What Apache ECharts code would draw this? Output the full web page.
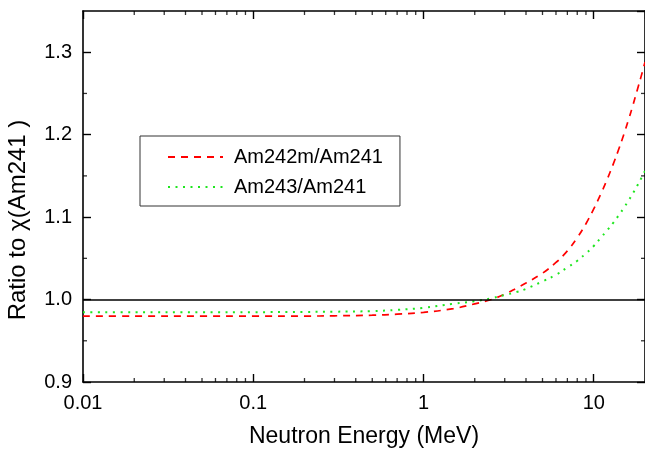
<!DOCTYPE html>
<html>
<head>
<meta charset="utf-8">
<script src="https://cdn.jsdelivr.net/npm/echarts@6/dist/echarts.min.js"></script>
<style>
html,body{margin:0;padding:0;background:#fff;}
#chart{width:645px;height:453px;}
</style>
</head>
<body>
<div id="chart"></div>
<script>
// Neutron energy (MeV)
const energy = [0.01, 0.02, 0.05, 0.1, 0.2, 0.3, 0.5, 0.7, 1.0, 1.5, 2.0, 2.5, 3.0, 3.5, 4.0, 5.0, 6.0, 7.0, 8.0, 9.0, 10, 11, 12, 13, 14, 15, 16, 17, 18, 19, 20];
// Ratio Am242m/Am241
const am242mRatio = [0.980, 0.980, 0.980, 0.980, 0.980, 0.9803, 0.981, 0.9823, 0.9845, 0.989, 0.9948, 1.000, 1.0065, 1.0135, 1.020, 1.032, 1.045, 1.059, 1.075, 1.092, 1.110, 1.128, 1.146, 1.164, 1.182, 1.200, 1.218, 1.236, 1.254, 1.271, 1.288];
// Ratio Am243/Am241
const am243Ratio = [0.9845, 0.9845, 0.9846, 0.9847, 0.985, 0.9853, 0.986, 0.9875, 0.990, 0.995, 0.998, 1.0015, 1.0055, 1.009, 1.013, 1.022, 1.030, 1.039, 1.047, 1.056, 1.065, 1.075, 1.084, 1.093, 1.102, 1.111, 1.120, 1.129, 1.138, 1.147, 1.156];
const seriesNames = ['Am242m/Am241', 'Am243/Am241'];
const xMinorTicks = [0.02,0.03,0.04,0.05,0.06,0.07,0.08,0.09,0.2,0.3,0.4,0.5,0.6,0.7,0.8,0.9,2,3,4,5,6,7,8,9];
const yMinorTicks = [0.95, 1.05, 1.15, 1.25];
const X_MIN = 0.01, X_MAX = 20, Y_MIN = 0.9, Y_MAX = 1.35, Y_INTERVAL = 0.1;
const referenceLevel = 1.0;

const FONT = 'Liberation Sans, Arial, Helvetica, sans-serif';
const chart = echarts.init(document.getElementById('chart'), null, {renderer: 'canvas'});

const axisLine = {show: true, lineStyle: {color: '#000', width: 1.6}};
const majorTick = {show: true, inside: true, length: 8, lineStyle: {color: '#000', width: 1.4}};

function minorTickSeries(points, size, offset) {
  return {
    type: 'scatter', silent: true, z: 6, clip: false,
    symbol: 'rect', symbolSize: size, symbolOffset: offset,
    itemStyle: {color: '#000'},
    data: points
  };
}

const option = {
  animation: false,
  backgroundColor: '#fff',
  grid: {left: 83, top: 11, width: 566, height: 372, containLabel: false},
  legend: {
    data: seriesNames,
    orient: 'vertical',
    left: 140, top: 136,
    padding: [11, 17, 9, 27],
    itemGap: 10,
    itemWidth: 55, itemHeight: 14,
    borderColor: '#333', borderWidth: 1,
    backgroundColor: '#fff',
    itemStyle: {opacity: 0, borderWidth: 0},
    textStyle: {fontFamily: FONT, fontSize: 20, lineHeight: 20, color: '#000', padding: [0, 0, 0, 6]}
  },
  xAxis: [
    {
      type: 'log', logBase: 10, min: X_MIN, max: X_MAX, position: 'bottom',
      name: 'Neutron Energy (MeV)', nameLocation: 'middle', nameGap: 43,
      nameTextStyle: {fontFamily: FONT, fontSize: 23, color: '#000'},
      axisLine: axisLine, axisTick: majorTick, splitLine: {show: false},
      axisLabel: {fontFamily: FONT, fontSize: 20, color: '#000', margin: 11, showMaxLabel: false, showMinLabel: true,
        formatter: v => (Math.abs(Math.log10(v) - Math.round(Math.log10(v))) < 1e-6) ? String(+v.toPrecision(3)) : ''}
    },
    {
      type: 'log', logBase: 10, min: X_MIN, max: X_MAX, position: 'top',
      axisLine: axisLine, axisTick: majorTick, axisLabel: {show: false}, splitLine: {show: false}
    }
  ],
  yAxis: [
    {
      type: 'value', min: Y_MIN, max: Y_MAX, interval: Y_INTERVAL, position: 'left',
      axisLine: axisLine, axisTick: majorTick, splitLine: {show: false},
      axisLabel: {fontFamily: FONT, fontSize: 20, color: '#000', margin: 11, showMaxLabel: false,
        formatter: v => v.toFixed(1)}
    },
    {
      type: 'value', min: Y_MIN, max: Y_MAX, interval: Y_INTERVAL, position: 'right',
      axisLine: axisLine, axisTick: majorTick, axisLabel: {show: false}, splitLine: {show: false}
    }
  ],
  graphic: [{
    type: 'text', x: 18, y: 220, rotation: Math.PI / 2,
    style: {text: 'Ratio to χ(Am241 )', fontFamily: FONT, fontSize: 24, fill: '#000', align: 'center', verticalAlign: 'middle'}
  }],
  series: [
    {
      name: seriesNames[0], type: 'line', showSymbol: false, symbol: 'none', smooth: 0.4,
      data: energy.map((e, i) => [e, am242mRatio[i]]),
      lineStyle: {color: '#ff0000', width: 1.7, type: [7, 6]},
      itemStyle: {color: '#ff0000'},
      z: 3,
      markLine: {
        silent: true, symbol: ['none', 'none'], label: {show: false},
        lineStyle: {color: '#000', width: 1.5, type: 'solid'},
        data: [{yAxis: referenceLevel}]
      }
    },
    {
      name: seriesNames[1], type: 'line', showSymbol: false, symbol: 'none', smooth: 0.4,
      data: energy.map((e, i) => [e, am243Ratio[i]]),
      lineStyle: {color: '#1ee61e', width: 2, type: [2, 5.5]},
      itemStyle: {color: '#1ee61e'},
      z: 3
    },
    minorTickSeries(xMinorTicks.map(v => [v, Y_MIN]), [1.3, 4], [0, -2]),
    minorTickSeries(xMinorTicks.map(v => [v, Y_MAX]), [1.3, 4], [0, 2]),
    minorTickSeries(yMinorTicks.map(v => [X_MIN, v]), [4, 1.3], [2, 0]),
    minorTickSeries(yMinorTicks.map(v => [X_MAX, v]), [4, 1.3], [-2, 0])
  ]
};
chart.setOption(option);
</script>
</body>
</html>
